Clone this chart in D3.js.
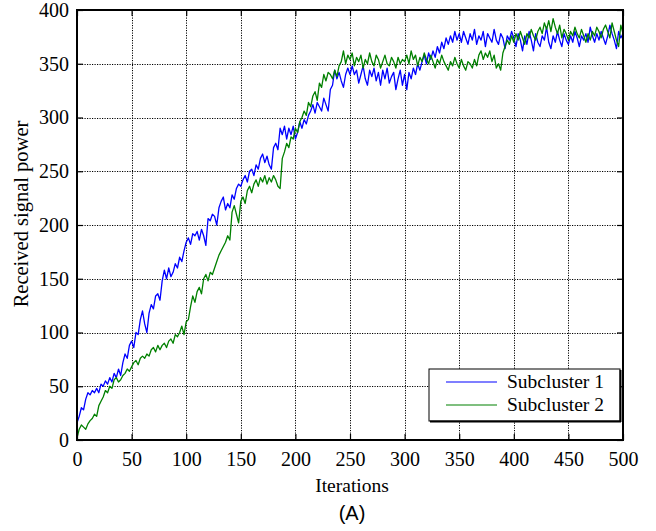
<!DOCTYPE html>
<html><head><meta charset="utf-8">
<script src="https://cdn.jsdelivr.net/npm/d3@7"></script>
<style>body{margin:0;background:#fff;} svg{display:block;}</style>
</head><body>
<script>
// ---- data (sampled every 2 iterations) ----
const iterStep = 2;
const seriesNames = ["Subcluster 1", "Subcluster 2"];
const subcluster1 = [16,22,30,28,38,44,42,46,44,48,44,52,50,55,52,58,54,62,58,66,60,72,80,76,88,92,86,100,98,112,120,108,100,118,126,122,134,136,130,148,158,150,160,152,156,164,160,170,166,176,184,188,182,192,190,194,186,196,190,181,206,204,210,208,200,216,222,226,214,220,216,228,224,234,238,236,242,246,240,250,252,246,256,252,262,266,258,264,256,252,272,276,270,290,284,292,280,290,284,292,280,286,296,290,298,294,302,306,312,304,314,310,306,318,312,306,326,330,344,336,342,334,328,340,346,340,348,340,344,332,340,348,336,330,344,338,346,334,342,330,344,336,346,332,338,342,326,336,344,330,340,326,342,336,346,340,350,344,352,358,350,360,354,362,356,366,360,370,364,374,368,376,370,380,372,378,370,380,374,368,378,372,382,368,376,372,380,366,378,374,370,382,372,368,378,374,364,376,372,380,374,366,378,372,362,376,368,380,372,362,378,370,366,376,372,384,370,364,376,370,380,372,366,378,372,368,376,370,380,374,366,376,372,378,370,384,376,370,378,372,380,374,368,376,386,378,372,364,380,374,378];
const subcluster2 = [2,10,14,12,10,15,18,20,24,22,32,36,40,46,44,50,48,56,58,54,56,60,62,66,64,68,72,74,70,76,78,76,80,78,84,86,82,88,84,88,90,86,92,94,90,98,96,100,106,98,110,112,124,134,128,138,142,136,150,154,148,156,154,160,166,172,176,180,184,190,186,212,218,210,202,222,226,220,232,236,230,238,242,236,244,240,246,238,244,240,246,242,236,234,262,268,276,272,282,280,290,286,296,300,306,302,314,310,320,324,316,332,328,340,334,342,340,336,344,338,348,352,362,350,358,354,360,348,356,352,358,346,354,350,360,352,348,358,354,346,352,358,350,348,356,352,346,356,350,354,352,358,350,362,354,358,348,356,352,360,354,350,358,352,346,354,350,358,352,348,344,352,348,356,350,346,354,348,344,352,350,346,354,348,358,362,354,360,356,362,352,358,346,350,344,360,366,372,368,376,370,378,372,380,374,368,378,374,382,376,372,380,384,378,388,382,390,380,392,384,378,386,374,382,378,372,380,376,384,378,374,382,376,370,378,372,380,376,384,380,374,382,386,380,374,388,380,372,366,386,378];
const xTicks = [0,50,100,150,200,250,300,350,400,450,500];
const yTicks = [0,50,100,150,200,250,300,350,400];
const colors = ["#0000ff", "#008000"];

// ---- layout ----
const W = 656, H = 531;
const m = {left:77, top:10, right:623, bottom:440};
const svg = d3.select("body").append("svg").attr("width", W).attr("height", H);
const x = d3.scaleLinear().domain([0,500]).range([m.left, m.right]);
const y = d3.scaleLinear().domain([0,400]).range([m.bottom, m.top]);
const serif = "'Liberation Serif','Times New Roman',serif";

// grid
const g = svg.append("g");
g.selectAll(".gx").data(xTicks.slice(1,-1)).join("line")
  .attr("x1", d=>Math.round(x(d))+0.5).attr("x2", d=>Math.round(x(d))+0.5)
  .attr("y1", m.top).attr("y2", m.bottom)
  .attr("stroke","#000").attr("stroke-width",1).attr("stroke-dasharray","1.2,1.3");
g.selectAll(".gy").data(yTicks.slice(1,-1)).join("line")
  .attr("y1", d=>Math.round(y(d))+0.5).attr("y2", d=>Math.round(y(d))+0.5)
  .attr("x1", m.left).attr("x2", m.right)
  .attr("stroke","#000").attr("stroke-width",1).attr("stroke-dasharray","1.2,1.3");

// lines
const sets = [subcluster1, subcluster2];
const line = d3.line().x((d,i)=>x(i*iterStep)).y(d=>y(d));
svg.selectAll(".series").data(sets).join("path")
  .attr("d", d=>line(d)).attr("fill","none")
  .attr("stroke",(d,i)=>colors[i]).attr("stroke-width",1.3)
  .attr("stroke-linejoin","round");

// axes (MATLAB style: inward ticks all sides)
const tl = 6;
const axB = svg.append("g").attr("transform",`translate(0,${m.bottom})`)
  .call(d3.axisBottom(x).tickValues(xTicks).tickSize(-tl).tickPadding(12));
const axT = svg.append("g").attr("transform",`translate(0,${m.top})`)
  .call(d3.axisTop(x).tickValues(xTicks).tickSize(-tl).tickFormat(""));
const axL = svg.append("g").attr("transform",`translate(${m.left},0)`)
  .call(d3.axisLeft(y).tickValues(yTicks).tickSize(-tl).tickPadding(8));
const axR = svg.append("g").attr("transform",`translate(${m.right},0)`)
  .call(d3.axisRight(y).tickValues(yTicks).tickSize(-tl).tickFormat(""));
[axB,axT,axL,axR].forEach(a=>{
  a.select(".domain").remove();
  a.selectAll("line").attr("stroke","#000").attr("stroke-width",1.2);
  a.selectAll("text").attr("font-family",serif).attr("font-size",20).attr("fill","#000");
});
svg.append("rect").attr("x",m.left).attr("y",m.top)
  .attr("width",m.right-m.left).attr("height",m.bottom-m.top)
  .attr("fill","none").attr("stroke","#000").attr("stroke-width",2);

// axis labels
svg.append("text").attr("x",(m.left+m.right)/2+2).attr("y",492)
  .attr("text-anchor","middle").attr("font-family",serif).attr("font-size",19.5).text("Iterations");
svg.append("text").attr("transform",`translate(28,214) rotate(-90)`)
  .attr("text-anchor","middle").attr("font-family",serif).attr("font-size",20.5).text("Received signal power");
svg.append("text").attr("x",352).attr("y",520)
  .attr("text-anchor","middle").attr("font-family","'Liberation Sans',Arial,sans-serif").attr("font-size",20).text("(A)");

// legend
const lg = svg.append("g");
lg.append("rect").attr("x",429).attr("y",369).attr("width",191).attr("height",52)
  .attr("fill","#fff").attr("stroke","#000").attr("stroke-width",1);
lg.append("line").attr("x1",430).attr("x2",621).attr("y1",421.5).attr("y2",421.5).attr("stroke","#000").attr("stroke-width",2);
lg.append("line").attr("x1",620.5).attr("x2",620.5).attr("y1",370).attr("y2",422).attr("stroke","#000").attr("stroke-width",2);
seriesNames.forEach((n,i)=>{
  const yy = 382 + i*23;
  lg.append("line").attr("x1",446).attr("x2",497).attr("y1",yy).attr("y2",yy)
    .attr("stroke",colors[i]).attr("stroke-width",1.2);
  lg.append("text").attr("x",507).attr("y",yy+6).attr("font-family",serif)
    .attr("font-size",19.5).text(n);
});
</script>
</body></html>
